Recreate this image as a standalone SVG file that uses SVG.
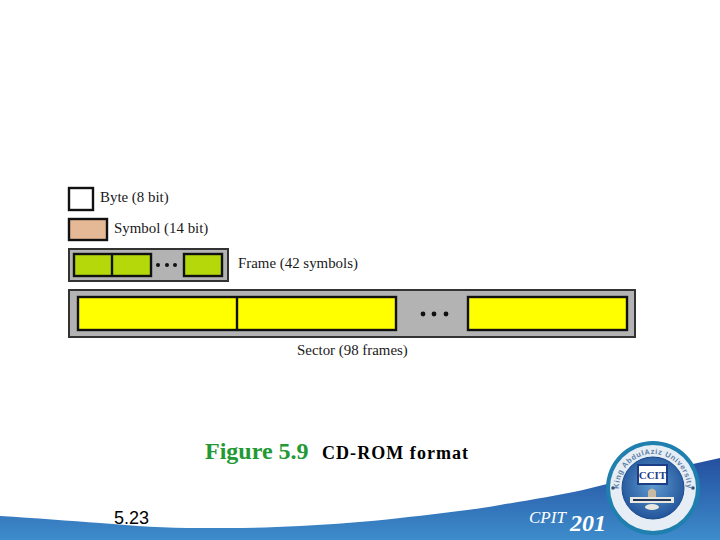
<svg xmlns="http://www.w3.org/2000/svg" width="720" height="540" viewBox="0 0 720 540">
<style>
.lbl{font-family:"Liberation Serif","Times New Roman",serif;font-size:14.9px;fill:#1a1a1a}
.b{stroke:#111;stroke-width:2.4}
.dot{fill:#111}
.ring{font-family:"Liberation Sans",sans-serif;font-size:7.5px;font-weight:bold;fill:#5f7fa8;letter-spacing:.6px}
</style>
<defs>
<linearGradient id="wave" x1="0" y1="0" x2="0" y2="1"><stop offset="0" stop-color="#2450a0"/><stop offset="1" stop-color="#3d8ccb"/></linearGradient>
<radialGradient id="disc" cx="0.5" cy="0.45" r="0.6"><stop offset="0" stop-color="#5f9ad0"/><stop offset="1" stop-color="#1d4f96"/></radialGradient>
<path id="arcTop" d="M620.800 499A34 34 0 1 1 685.200 499"/>
</defs>
<rect width="720" height="540" fill="#fff"/>
<path id="wave-band" d="M0 516C35 518 70 521 100 523C135 526 165 528 200 528C235 528 265 528 300 526C335 524 365 522 400 518C435 514 465 511 500 505C530 500 555 496 583 490C630 478 675 468 720 458V540H0Z" fill="url(#wave)"/>
<g id="byte"><rect class="b" x="69" y="188" width="24" height="22" fill="#fff"/><text class="lbl" x="100" y="202">Byte (8 bit)</text></g>
<g id="symbol"><rect class="b" x="69" y="219" width="38" height="21" fill="#e5b896"/><text class="lbl" x="114" y="233">Symbol (14 bit)</text></g>
<g id="frame">
<rect x="69" y="249" width="159" height="32" fill="#b3b3b3" stroke="#333" stroke-width="2"/>
<rect class="b" x="74" y="254" width="77" height="22" fill="#b5d80a"/>
<line class="b" x1="112" y1="254" x2="112" y2="276"/>
<circle class="dot" cx="158" cy="265" r="2"/><circle class="dot" cx="167" cy="265" r="2"/><circle class="dot" cx="175" cy="265" r="2"/>
<rect class="b" x="184" y="254" width="38" height="22" fill="#b5d80a"/>
<text class="lbl" x="238" y="268">Frame (42 symbols)</text>
</g>
<g id="sector">
<rect x="69" y="290" width="566" height="47" fill="#b3b3b3" stroke="#333" stroke-width="2"/>
<rect class="b" x="78" y="297" width="318" height="33" fill="#ffff00"/>
<line class="b" x1="237" y1="297" x2="237" y2="330" stroke-width="2"/>
<circle class="dot" cx="423" cy="314" r="2.4"/><circle class="dot" cx="434" cy="314" r="2.4"/><circle class="dot" cx="446" cy="314" r="2.4"/>
<rect class="b" x="468" y="297" width="159" height="33" fill="#ffff00"/>
<text class="lbl" x="297" y="355">Sector (98 frames)</text>
</g>
<text x="205" y="459" font-family="Liberation Serif,serif" font-size="24" font-weight="bold" fill="#229933">Figure 5.9</text>
<text x="322" y="459" font-family="Liberation Serif,serif" font-size="18" font-weight="bold" letter-spacing="1.05" fill="#000">CD-ROM format</text>
<text x="114" y="524" font-family="Liberation Sans,sans-serif" font-size="18" fill="#000">5.23</text>
<text x="529" y="523" font-family="Liberation Serif,serif" font-size="17" font-style="italic" fill="#fff">CPIT</text>
<text x="570" y="531" font-family="Liberation Serif,serif" font-size="24" font-weight="bold" font-style="italic" fill="#fff">201</text>
<g id="logo">
<circle cx="653" cy="488" r="47" fill="#1f7fae"/>
<circle cx="653" cy="488" r="43" fill="#e6edf4"/>
<circle cx="653" cy="488" r="31" fill="url(#disc)" stroke="#1a4a8c"/>
<text class="ring"><textPath href="#arcTop" startOffset="50%" text-anchor="middle">King AbdulAziz University</textPath></text>
<circle cx="613" cy="488" r="1.8" fill="#33507a"/><circle cx="693" cy="488" r="1.8" fill="#33507a"/>
<rect x="638" y="465" width="29" height="19" fill="#fff" stroke="#1b3f86" stroke-width="2"/>
<text x="652.500" y="479" text-anchor="middle" font-family="Liberation Serif,serif" font-size="11" font-weight="bold" fill="#1b3f86">CCIT</text>
<path d="M648 497V491Q652 486 656 491V497Z" fill="#c9b9a0"/>
<rect x="630" y="497" width="44" height="6" fill="#e8e8e0"/>
<rect x="633" y="499" width="38" height="2" fill="#223355"/>
<ellipse cx="652" cy="507" rx="7" ry="3" fill="#e8e8e0"/>
</g>
</svg>
